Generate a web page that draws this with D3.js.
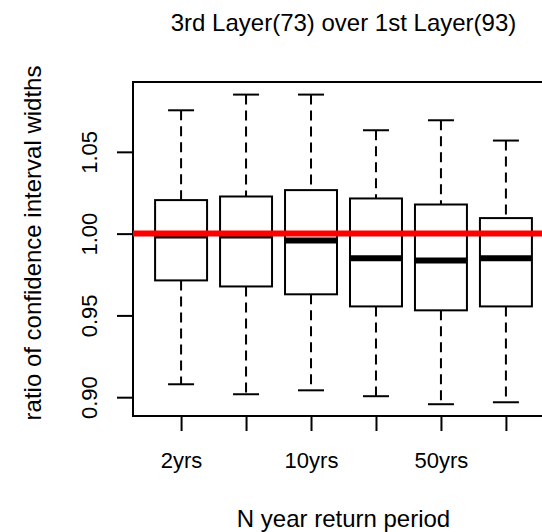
<!DOCTYPE html>
<html><head><meta charset="utf-8">
<script src="https://cdn.jsdelivr.net/npm/d3@7"></script>
<style>
body{margin:0;background:#fff;}
svg{display:block;}
text{font-family:"Liberation Sans",Arial,sans-serif;fill:#000;}
</style>
</head><body><svg id="c" width="542" height="532"></svg>
<script>
const categories = ["2yrs","5yrs","10yrs","20yrs","50yrs","100yrs"];
const shownLabels = ["2yrs","10yrs","50yrs"];
const whiskerLow  = [0.9079,0.9018,0.9042,0.9006,0.8957,0.8969];
const q1          = [0.9714,0.9677,0.9629,0.9555,0.9531,0.9555];
const median      = [0.9988,0.9988,0.9958,0.9849,0.9836,0.9849];
const q3          = [1.0205,1.0227,1.0266,1.0215,1.0178,1.0095];
const whiskerHigh = [1.0754,1.0850,1.0850,1.0632,1.0693,1.0569];
const yTicks = [0.90,0.95,1.00,1.05];
const refLine = 1.0;
const title = "3rd Layer(73) over 1st Layer(93)";
const xTitle = "N year return period";
const yTitle = "ratio of confidence interval widths";

const svg = d3.select("#c");
const L = 133, R = 554, T = 82, B = 416;
const x = d3.scaleLinear().domain([0.26, categories.length + 0.74]).range([L, R]);
const y = d3.scaleLinear().domain([0.8885, 1.0927]).range([B, T]);
const halfW = x(1.4) - x(1);
const capW = halfW / 2;

const data = categories.map((c,i)=>({c, pos:i+1, lo:whiskerLow[i], q1:q1[i], med:median[i], q3:q3[i], hi:whiskerHigh[i]}));

const g = svg.append("g");
const bx = g.selectAll("g.box").data(data).join("g").attr("class","box");
// whiskers dashed
bx.append("line").attr("x1",d=>x(d.pos)).attr("x2",d=>x(d.pos))
  .attr("y1",d=>y(d.hi)).attr("y2",d=>y(d.q3))
  .attr("stroke","#000").attr("stroke-width",2).attr("stroke-dasharray","10,6");
bx.append("line").attr("x1",d=>x(d.pos)).attr("x2",d=>x(d.pos))
  .attr("y1",d=>y(d.q1)).attr("y2",d=>y(d.lo))
  .attr("stroke","#000").attr("stroke-width",2).attr("stroke-dasharray","10,6");
// caps
bx.append("line").attr("x1",d=>x(d.pos)-capW).attr("x2",d=>x(d.pos)+capW)
  .attr("y1",d=>y(d.hi)).attr("y2",d=>y(d.hi)).attr("stroke","#000").attr("stroke-width",2);
bx.append("line").attr("x1",d=>x(d.pos)-capW).attr("x2",d=>x(d.pos)+capW)
  .attr("y1",d=>y(d.lo)).attr("y2",d=>y(d.lo)).attr("stroke","#000").attr("stroke-width",2);
// boxes
bx.append("rect").attr("x",d=>x(d.pos)-halfW).attr("width",2*halfW)
  .attr("y",d=>y(d.q3)).attr("height",d=>y(d.q1)-y(d.q3))
  .attr("fill","none").attr("stroke","#000").attr("stroke-width",2);
// medians
bx.append("line").attr("x1",d=>x(d.pos)-halfW).attr("x2",d=>x(d.pos)+halfW)
  .attr("y1",d=>y(d.med)).attr("y2",d=>y(d.med)).attr("stroke","#000").attr("stroke-width",6);

// frame
svg.append("rect").attr("x",L).attr("y",T).attr("width",R-L).attr("height",B-T)
  .attr("fill","none").attr("stroke","#000").attr("stroke-width",2);

// reference line
svg.append("line").attr("x1",L).attr("x2",R).attr("y1",y(refLine)).attr("y2",y(refLine))
  .attr("stroke","#ff0000").attr("stroke-width",6);

// y axis
const ya = svg.append("g").attr("transform",`translate(${L},0)`)
  .call(d3.axisLeft(y).tickValues(yTicks).tickFormat(d3.format(".2f")).tickSize(16).tickSizeOuter(0));
ya.select(".domain").remove();
ya.selectAll(".tick line").attr("stroke","#000").attr("stroke-width",2);
ya.selectAll(".tick text").attr("x",null).attr("dy",null)
  .attr("transform",`translate(${97-L},0) rotate(-90)`).attr("text-anchor","middle")
  .attr("font-size",22).attr("font-family",null).attr("fill","#000");

// x axis
const xa = svg.append("g").attr("transform",`translate(0,${B})`)
  .call(d3.axisBottom(x).tickValues(data.map(d=>d.pos))
    .tickFormat((d,i)=>shownLabels.includes(categories[i]) ? categories[i] : "")
    .tickSize(15).tickSizeOuter(0));
xa.select(".domain").remove();
xa.selectAll(".tick line").attr("stroke","#000").attr("stroke-width",2);
xa.selectAll(".tick text").attr("y",52).attr("dy",null)
  .attr("font-size",22).attr("font-family",null).attr("fill","#000");

// titles
svg.append("text").attr("x",(L+R)/2).attr("y",31).attr("text-anchor","middle")
  .attr("font-size",24).text(title);
svg.append("text").attr("x",(L+R)/2).attr("y",527).attr("text-anchor","middle")
  .attr("font-size",24).text(xTitle);
svg.append("text").attr("transform",`translate(41,243) rotate(-90)`).attr("text-anchor","middle")
  .attr("font-size",24).text(yTitle);
</script>
</body></html>
